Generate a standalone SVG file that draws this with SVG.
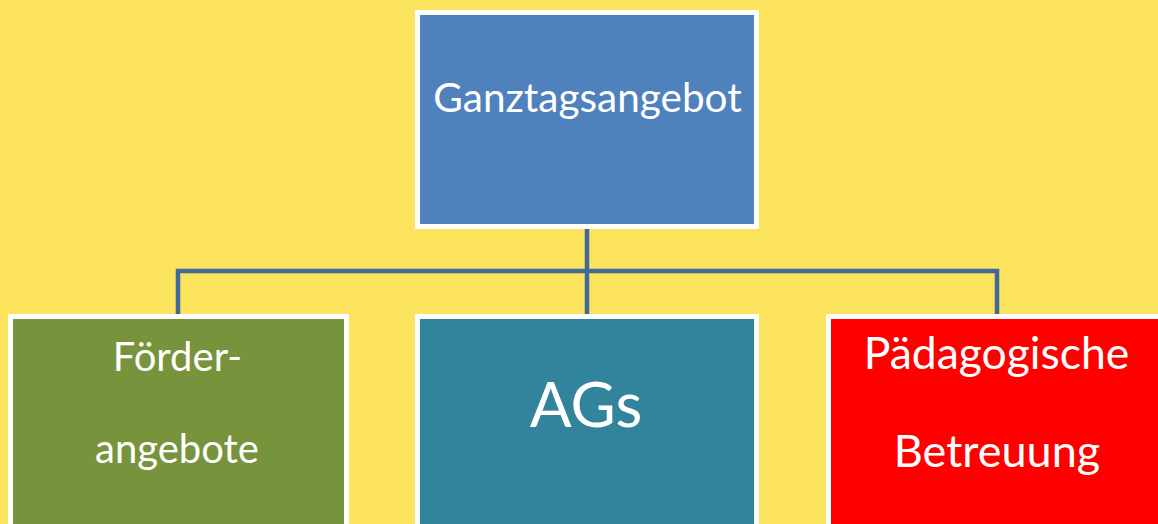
<svg xmlns="http://www.w3.org/2000/svg" width="1158" height="524" viewBox="0 0 1158 524">
<style>
.box{stroke:#ffffff;stroke-width:5}
.t{font-family:Lato,"Open Sans","Liberation Sans",sans-serif;fill:#ffffff;text-anchor:middle}
.c{fill:none;stroke:#41699a;stroke-width:4.5}
</style>
<rect x="0" y="0" width="1158" height="524" fill="#fbe35d"/>
<g id="connectors">
<path class="c" d="M587,228 V271 M178,316 V271 H997 V316 M587,271 V316"/>
</g>
<g id="ganztagsangebot">
<rect class="box" x="417.5" y="12.5" width="339" height="214" fill="#4f81bd"/>
<text class="t" x="587.5" y="112" font-size="40.5">Ganztagsangebot</text>
</g>
<g id="foerderangebote">
<rect class="box" x="10.5" y="316.5" width="336" height="220" fill="#77933c"/>
<text class="t" x="177.5" y="371" font-size="40">Förder-</text>
<text class="t" x="177" y="463" font-size="40">angebote</text>
</g>
<g id="ags">
<rect class="box" x="417.5" y="316.5" width="339" height="220" fill="#31849b"/>
<text class="t" x="586" y="427" font-size="62">AGs</text>
</g>
<g id="paedagogische-betreuung">
<rect class="box" x="828.5" y="316.5" width="340" height="220" fill="#ff0000"/>
<text class="t" x="996.5" y="369" font-size="44.5">Pädagogische</text>
<text class="t" x="997" y="467" font-size="45">Betreuung</text>
</g>
</svg>
